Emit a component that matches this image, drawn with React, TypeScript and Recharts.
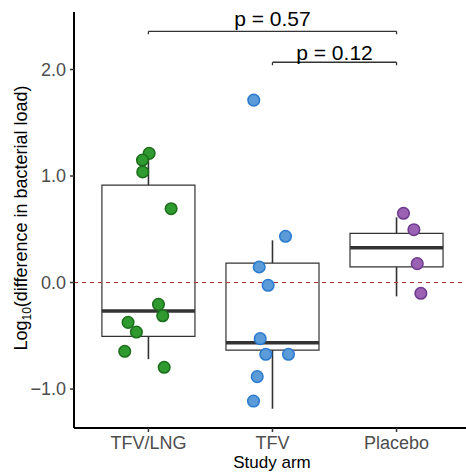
import React from "react";
import {
  ComposedChart,
  Scatter,
  XAxis,
  YAxis,
  ReferenceArea,
  ReferenceLine,
} from "recharts";

const FONT = "'Liberation Sans', Arial, Helvetica, sans-serif";

const categories = ["TFV/LNG", "TFV", "Placebo"];
const yTicks = [-1, 0, 1, 2];

// box stats per arm
const whiskerLow = [-0.72, -1.185, -0.13];
const q1 = [-0.505, -0.634, 0.146];
const median = [-0.268, -0.565, 0.327];
const q3 = [0.915, 0.183, 0.462];
const whiskerHigh = [1.215, 0.396, 0.612];

// jittered points
const tfvLngValues = [1.213, 1.15, 1.038, 0.693, -0.205, -0.312, -0.374, -0.465, -0.646, -0.796];
const tfvLngJitter = [0.006, -0.048, -0.046, 0.183, 0.081, 0.115, -0.164, -0.097, -0.191, 0.127];
const tfvValues = [1.713, 0.434, 0.146, -0.026, -0.527, -0.674, -0.674, -0.884, -1.113];
const tfvJitter = [-0.151, 0.105, -0.107, -0.035, -0.099, -0.054, 0.129, -0.123, -0.153];
const placeboValues = [0.65, 0.496, 0.177, -0.101];
const placeboJitter = [0.056, 0.14, 0.167, 0.196];

// comparisons: [from arm, to arm, bracket height, label]
const comparisons = [
  { from: 1, to: 3, y: 2.359, label: "p = 0.57", offset: 5 },
  { from: 2, to: 3, y: 2.068, label: "p = 0.12", offset: 2.5 },
];

const armColors = [
  { fill: "#2f9a2f", stroke: "#1c6e1c" },
  { fill: "#5b9bd8", stroke: "#2a7bd0" },
  { fill: "#9b62b3", stroke: "#6d3a8e" },
];

const toPoints = (arm: number, vals: number[], jit: number[]) =>
  vals.map((v, i) => ({ x: arm + jit[i], y: v }));

const groups = [
  toPoints(1, tfvLngValues, tfvLngJitter),
  toPoints(2, tfvValues, tfvJitter),
  toPoints(3, placeboValues, placeboJitter),
];

const HALF = 0.375;
const TICKDOWN = 0.028;

const fmtY = (v: number) => (v < 0 ? "\u2212" + Math.abs(v).toFixed(1) : v.toFixed(1));

const Dot = (color: { fill: string; stroke: string }) => (props: any) => (
  <circle cx={props.cx} cy={props.cy} r={5.8} fill={color.fill} stroke={color.stroke} strokeWidth={1.5} />
);

export default function App() {
  return (
    <div style={{ position: "absolute", left: 0, top: 0 }}>
      <ComposedChart width={466} height={472} margin={{ top: 12, right: 0, bottom: 14, left: 0 }}>
        <XAxis
          type="number"
          dataKey="x"
          domain={[0.4, 3.56]}
          ticks={[1, 2, 3]}
          allowDataOverflow
          tickFormatter={(v: number) => categories[v - 1]}
          height={30}
          tickSize={4}
          tickMargin={4}
          axisLine={{ stroke: "#000", strokeWidth: 2 }}
          tickLine={{ stroke: "#333", strokeWidth: 1.5 }}
          tick={{ fill: "#4d4d4d", fontSize: 18, fontFamily: FONT }}
          label={{
            content: () => (
              <text x={272} y={468} textAnchor="middle" fontSize={17} fontFamily={FONT} fill="#000">
                Study arm
              </text>
            ),
          }}
        />
        <YAxis
          type="number"
          dataKey="y"
          domain={[-1.366, 2.54]}
          ticks={yTicks}
          allowDataOverflow
          tickFormatter={fmtY}
          width={74}
          tickSize={4}
          tickMargin={4}
          axisLine={{ stroke: "#000", strokeWidth: 2 }}
          tickLine={{ stroke: "#333", strokeWidth: 1.5 }}
          tick={{ fill: "#4d4d4d", fontSize: 18, fontFamily: FONT }}
          label={{
            content: () => (
              <text
                x={27}
                y={218}
                transform="rotate(-90, 27, 218)"
                textAnchor="middle"
                fontSize={18}
                fontFamily={FONT}
                fill="#000"
              >
                Log
                <tspan fontSize={12} dy={4}>10</tspan>
                <tspan dy={-4}>(difference in bacterial load)</tspan>
              </text>
            ),
          }}
        />

        {categories.map((c, i) => (
          <ReferenceLine
            key={"wl" + c}
            segment={[{ x: i + 1, y: whiskerLow[i] }, { x: i + 1, y: q1[i] }]}
            stroke="#333"
            strokeWidth={1.6}
          />
        ))}
        {categories.map((c, i) => (
          <ReferenceLine
            key={"wh" + c}
            segment={[{ x: i + 1, y: q3[i] }, { x: i + 1, y: whiskerHigh[i] }]}
            stroke="#333"
            strokeWidth={1.6}
          />
        ))}
        {categories.map((c, i) => (
          <ReferenceArea
            key={"box" + c}
            x1={i + 1 - HALF}
            x2={i + 1 + HALF}
            y1={q1[i]}
            y2={q3[i]}
            fill="#fff"
            fillOpacity={1}
            stroke="#333"
            strokeWidth={1.2}
          />
        ))}
        {categories.map((c, i) => (
          <ReferenceLine
            key={"med" + c}
            segment={[{ x: i + 1 - HALF, y: median[i] }, { x: i + 1 + HALF, y: median[i] }]}
            stroke="#333"
            strokeWidth={3.5}
          />
        ))}

        <ReferenceLine y={0} stroke="#a83232" strokeWidth={1} strokeDasharray="4 4" />

        {comparisons.map((c) => (
          <ReferenceLine
            key={"br" + c.label}
            segment={[{ x: c.from, y: c.y }, { x: c.to, y: c.y }]}
            stroke="#333"
            strokeWidth={1.3}
            label={{ value: c.label, position: "top", offset: c.offset, fontSize: 21, fontFamily: FONT, fill: "#000" }}
          />
        ))}
        {comparisons.map((c) => (
          <ReferenceLine
            key={"tl" + c.label}
            segment={[{ x: c.from, y: c.y }, { x: c.from, y: c.y - TICKDOWN }]}
            stroke="#333"
            strokeWidth={1.3}
          />
        ))}
        {comparisons.map((c) => (
          <ReferenceLine
            key={"tr" + c.label}
            segment={[{ x: c.to, y: c.y }, { x: c.to, y: c.y - TICKDOWN }]}
            stroke="#333"
            strokeWidth={1.3}
          />
        ))}

        {groups.map((g, i) => (
          <Scatter
            key={"pts" + i}
            data={g}
            dataKey="y"
            shape={Dot(armColors[i])}
            isAnimationActive={false}
          />
        ))}
      </ComposedChart>
    </div>
  );
}
